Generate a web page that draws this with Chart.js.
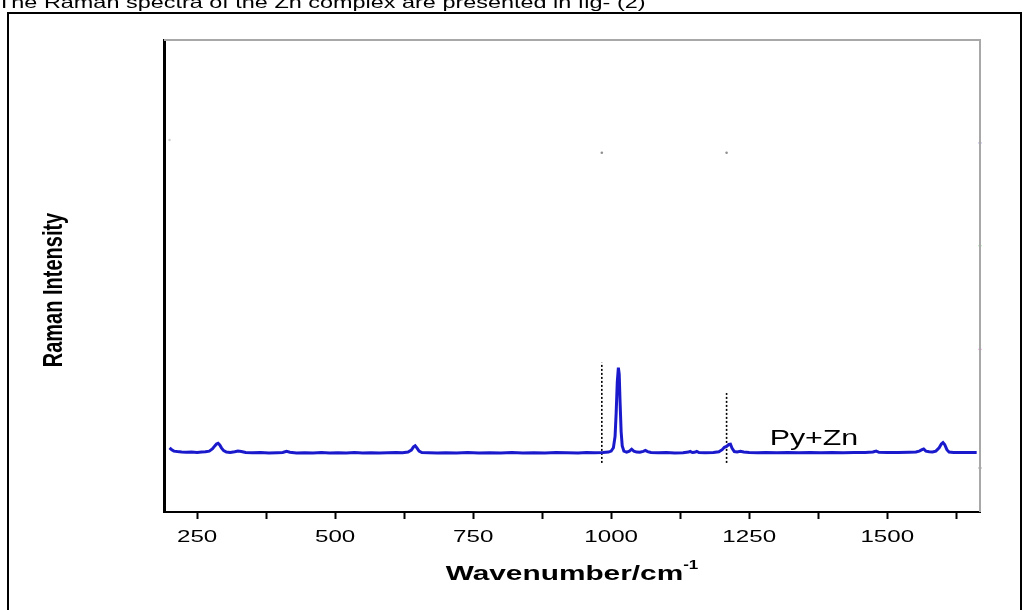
<!DOCTYPE html>
<html>
<head>
<meta charset="utf-8">
<script src="https://cdn.jsdelivr.net/npm/chart.js@4.4.1/dist/chart.umd.min.js"></script>
<style>
  body { margin: 0; background: #fff; }
</style>
</head>
<body>
<canvas id="myChart" width="1022" height="610"></canvas>
<script>
// spectrum (wavenumber in cm-1, intensity in arbitrary units)
const waveNumbers = [
  200, 204, 208, 214, 222, 230, 240, 250, 258, 265, 272, 278, 282, 285, 288, 291, 294, 298,
  303, 310, 318, 324, 330, 338, 350, 365, 380, 395, 405, 412, 418, 430, 445, 460, 475, 490,
  505, 520, 535, 550, 565, 580, 595, 610, 622, 632, 638, 642, 645, 648, 652, 657, 670, 685,
  700, 720, 740, 760, 780, 800, 820, 840, 860, 880, 900, 920, 940, 955, 970, 985, 995, 1000,
  1004, 1007, 1009, 1011, 1013, 1014.5, 1016, 1018, 1020, 1023, 1028, 1033, 1037, 1041, 1046,
  1052, 1058, 1062, 1066, 1072, 1085, 1100, 1115, 1130, 1140, 1143, 1147, 1151, 1155, 1159,
  1170, 1185, 1195, 1201, 1205, 1209, 1213, 1216, 1219, 1223, 1228, 1234, 1240, 1250, 1265,
  1280, 1300, 1320, 1340, 1360, 1380, 1400, 1420, 1440, 1460, 1474, 1480, 1485, 1500, 1520,
  1540, 1552, 1558, 1563, 1566, 1570, 1576, 1582, 1588, 1594, 1598, 1601, 1604, 1608, 1612,
  1620, 1635, 1650, 1662
];
const ramanIntensity = [
  13.6, 13.2, 12.9, 12.8, 12.7, 12.65, 12.7, 12.6, 12.7, 12.75, 12.9, 13.4, 14.0, 14.4, 14.55, 14.2, 13.6, 13.0,
  12.7, 12.6, 12.75, 12.9, 12.8, 12.6, 12.55, 12.6, 12.5, 12.55, 12.6, 12.85, 12.65, 12.5, 12.55, 12.5, 12.6, 12.5,
  12.55, 12.5, 12.6, 12.5, 12.55, 12.5, 12.55, 12.6, 12.55, 12.7, 13.1, 13.8, 14.05, 13.6, 12.9, 12.6, 12.55, 12.5,
  12.55, 12.5, 12.6, 12.5, 12.55, 12.5, 12.6, 12.5, 12.55, 12.5, 12.6, 12.55, 12.5, 12.6, 12.55, 12.6, 12.7, 12.9,
  13.6, 16.0, 21.0, 27.5, 30.6, 29.2, 23.5, 17.0, 14.0, 12.9, 12.7, 12.9, 13.3, 12.9, 12.7,
  12.65, 12.85, 13.05, 12.8, 12.6, 12.55, 12.6, 12.5, 12.55, 12.7, 12.85, 12.6, 12.65, 12.85, 12.6,
  12.55, 12.6, 12.75, 13.2, 13.7, 13.9, 14.3, 14.35, 13.5, 12.8, 12.7, 12.85, 12.7, 12.6, 12.55,
  12.6, 12.55, 12.6, 12.55, 12.6, 12.55, 12.6, 12.55, 12.6, 12.6, 12.7, 12.9, 12.65, 12.6, 12.6,
  12.65, 12.7, 12.9, 13.2, 13.35, 12.9, 12.75, 12.7, 12.9, 13.6, 14.4, 14.7, 14.3, 13.2, 12.7,
  12.6, 12.6, 12.6, 12.6
];

// dotted marker lines
const markerPos = [983, 1209];
const markerTop = [31.6, 25.2];
const markerBottom = 10.4;

// stray specks left in the scanned figure
const speckX = [200, 983, 1209, 1668, 1668, 1668, 1668];
const speckY = [78.8, 76.1, 76.1, 78.2, 56.4, 34.5, 9.3];
const speckColors = ['#d0d0d0', '#909090', '#909090', '#2020a0', '#20a020', '#d060d0', '#000'];

const xMin = 190, xMax = 1668;
const yMin = 0, yMax = 100;
const xTicks = [250, 375, 500, 625, 750, 875, 1000, 1125, 1250, 1375, 1500, 1625];
const xTickLabels = [250, 500, 750, 1000, 1250, 1500];

const caption = 'The Raman spectra of the Zn complex are presented in fig- (2)';
const sampleLabel = 'Py+Zn';
const stretch = 1.42; // the figure is widened horizontally

const fontName = '"Liberation Sans", Arial, sans-serif';

const decor = {
  id: 'decor',
  afterDraw(chart) {
    const ctx = chart.ctx;
    const a = chart.chartArea;
    const x = chart.scales.x, y = chart.scales.y;
    ctx.save();
    ctx.fillStyle = '#000';

    // page caption, cut at the top
    ctx.save();
    ctx.translate(-3, 8);
    ctx.scale(stretch, 1);
    ctx.font = '16.5px ' + fontName;
    ctx.textBaseline = 'alphabetic';
    ctx.fillText(caption, 0, 0);
    ctx.restore();

    // outer box
    ctx.strokeStyle = '#000';
    ctx.lineWidth = 2;
    ctx.strokeRect(8, 13, 1013, 700);

    // grey top and right frame
    ctx.strokeStyle = '#a8a8a8';
    ctx.lineWidth = 2;
    ctx.beginPath();
    ctx.moveTo(a.left, a.top);
    ctx.lineTo(a.right, a.top);
    ctx.lineTo(a.right, a.bottom);
    ctx.stroke();

    // tick labels
    xTickLabels.forEach(v => {
      ctx.save();
      ctx.translate(x.getPixelForValue(v), 537);
      ctx.scale(stretch, 1);
      ctx.font = '17px ' + fontName;
      ctx.textAlign = 'center';
      ctx.textBaseline = 'middle';
      ctx.fillText(String(v), 0, 0);
      ctx.restore();
    });

    // x title with superscript
    ctx.save();
    ctx.translate((a.left + a.right) / 2, 580);
    ctx.scale(stretch, 1);
    ctx.font = 'bold 21px ' + fontName;
    const w1 = ctx.measureText('Wavenumber/cm').width;
    ctx.font = 'bold 12px ' + fontName;
    const w2 = ctx.measureText('-1').width;
    let sx = -(w1 + w2) / 2;
    ctx.textAlign = 'left';
    ctx.font = 'bold 21px ' + fontName;
    ctx.fillText('Wavenumber/cm', sx, 0);
    ctx.font = 'bold 12px ' + fontName;
    ctx.fillText('-1', sx + w1, -11);
    ctx.restore();

    // y title
    ctx.save();
    ctx.translate(62, 290);
    ctx.rotate(-Math.PI / 2);
    ctx.scale(1, stretch);
    ctx.font = 'bold 20px ' + fontName;
    ctx.textAlign = 'center';
    ctx.textBaseline = 'alphabetic';
    ctx.fillText('Raman Intensity', 0, 0);
    ctx.restore();

    // sample label
    ctx.save();
    ctx.translate(x.getPixelForValue(1287), y.getPixelForValue(14.2));
    ctx.scale(1.38, 1);
    ctx.font = '22px ' + fontName;
    ctx.textAlign = 'left';
    ctx.fillText(sampleLabel, 0, 0);
    ctx.restore();

    ctx.restore();
  }
};

const spectrum = waveNumbers.map((w, i) => ({ x: w, y: ramanIntensity[i] }));
const markerSets = markerPos.map((m, i) => ({
  data: [{ x: m, y: markerBottom }, { x: m, y: markerTop[i] }],
  borderColor: '#000',
  borderWidth: 1.6,
  borderDash: [2, 2],
  pointRadius: 0
}));
const speckSet = {
  type: 'scatter',
  data: speckX.map((v, i) => ({ x: v, y: speckY[i] })),
  pointRadius: 1.3,
  pointBorderWidth: 0,
  pointBackgroundColor: speckColors,
  showLine: false,
  clip: false
};

const ctx = document.querySelector('#myChart').getContext('2d');
const chart = new Chart(ctx, {
  type: 'line',
  data: {
    datasets: [{
      data: spectrum,
      borderColor: '#1a1acc',
      borderWidth: 3,
      pointRadius: 0,
      tension: 0
    }, ...markerSets, speckSet]
  },
  options: {
    responsive: false,
    animation: false,
    layout: { padding: { left: 164, right: 42, top: 40, bottom: 0 } },
    plugins: { legend: { display: false }, tooltip: { enabled: false } },
    scales: {
      x: {
        type: 'linear',
        min: xMin,
        max: xMax,
        afterBuildTicks: s => { s.ticks = xTicks.map(v => ({ value: v })); },
        afterFit: s => { s.height = 98; },
        ticks: { display: false },
        grid: { display: true, drawOnChartArea: false, drawTicks: true, tickLength: 7, tickWidth: 2, tickColor: '#000' },
        border: { display: true, color: '#000', width: 2 }
      },
      y: {
        min: yMin,
        max: yMax,
        afterFit: s => { s.width = 0; },
        ticks: { display: false },
        grid: { display: false, drawTicks: false },
        border: { display: true, color: '#000', width: 3 }
      }
    }
  },
  plugins: [decor]
});
</script>
</body>
</html>
